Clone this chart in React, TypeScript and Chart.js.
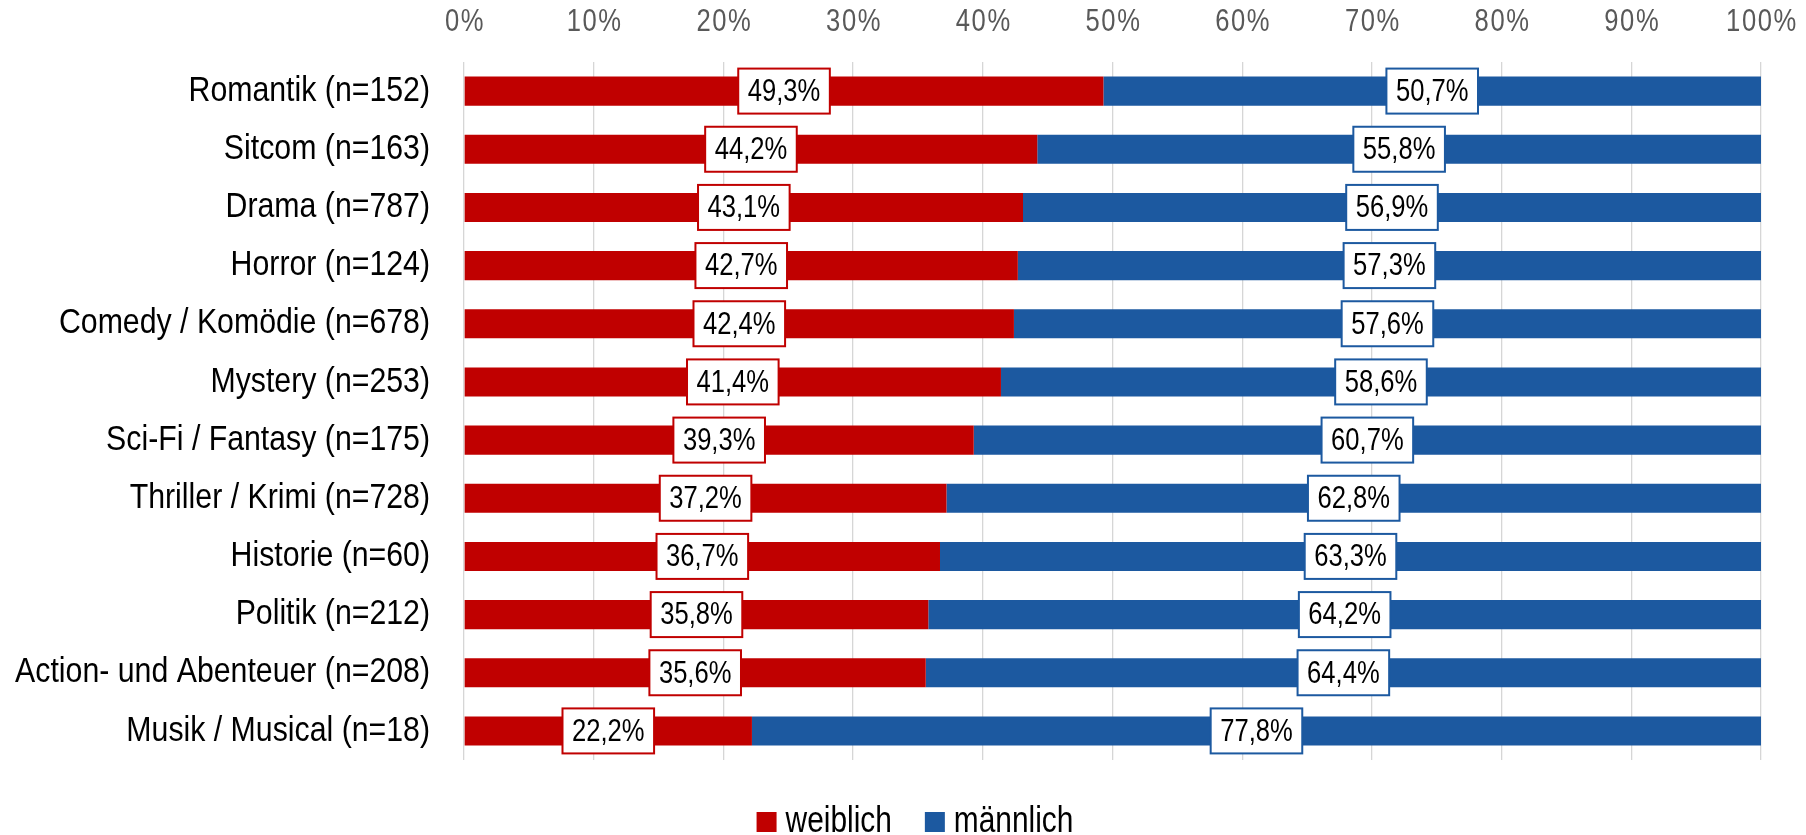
import React, { useEffect, useRef } from "react";
import { Chart, registerables } from "chart.js";

Chart.register(...registerables);

const categories = [
  "Romantik (n=152)",
  "Sitcom (n=163)",
  "Drama (n=787)",
  "Horror (n=124)",
  "Comedy / Komödie (n=678)",
  "Mystery (n=253)",
  "Sci-Fi / Fantasy (n=175)",
  "Thriller / Krimi (n=728)",
  "Historie (n=60)",
  "Politik (n=212)",
  "Action- und Abenteuer (n=208)",
  "Musik / Musical (n=18)",
];

const weiblich = [49.3, 44.2, 43.1, 42.7, 42.4, 41.4, 39.3, 37.2, 36.7, 35.8, 35.6, 22.2];
const maennlich = [50.7, 55.8, 56.9, 57.3, 57.6, 58.6, 60.7, 62.8, 63.3, 64.2, 64.4, 77.8];

const xTicks = [0, 10, 20, 30, 40, 50, 60, 70, 80, 90, 100];

const RED = "#C00000";
const BLUE = "#1C59A0";
const FONT = "'Liberation Sans', Arial, sans-serif";

const fmt = (v: number) => v.toFixed(1).replace(".", ",") + "%";

// draw text horizontally condensed (reference uses a narrow font)
function drawText(ctx: any, txt: string, x: number, y: number, size: number, k: number, align: string, baseline: string, color: string, spacing = 0) {
  ctx.save();
  ctx.font = `${size}px ${FONT}`;
  ctx.fillStyle = color;
  ctx.textAlign = align;
  ctx.textBaseline = baseline;
  if (spacing) ctx.letterSpacing = spacing + "px";
  ctx.translate(x, y);
  ctx.scale(k, 1);
  ctx.fillText(txt, 0, 0);
  ctx.restore();
}
function textWidth(ctx: any, txt: string, size: number, k: number) {
  ctx.save();
  ctx.font = `${size}px ${FONT}`;
  const w = ctx.measureText(txt).width * k;
  ctx.restore();
  return w;
}

const narrowText = {
  id: "narrowText",
  afterDraw(chart: any) {
    const ctx = chart.ctx;
    const xs = chart.scales.x;
    const ys = chart.scales.y;
    // x tick labels
    xs.ticks.forEach((t: any) => {
      drawText(ctx, t.value + "%", xs.getPixelForValue(t.value) + 1, 22, 32, 0.8, "center", "middle", "#595959", 2);
    });
    // y category labels
    chart.data.labels.forEach((lab: string, i: number) => {
      drawText(ctx, lab, chart.chartArea.left - 34, ys.getPixelForValue(i), 35, 0.865, "right", "middle", "#000000");
    });
    // legend
    const items = chart.data.datasets.map((d: any) => ({ text: d.label, color: d.backgroundColor }));
    const size = 36, k = 0.83, box = 20, gapBox = 9, gapItem = 33;
    const widths = items.map((it: any) => textWidth(ctx, it.text, size, k));
    const total = widths.reduce((a: number, w: number) => a + box + gapBox + w, 0) + gapItem * (items.length - 1);
    let x = 915 - total / 2;
    const base = 832;
    items.forEach((it: any, i: number) => {
      ctx.fillStyle = it.color;
      ctx.fillRect(x, base - box, box, box);
      x += box + gapBox;
      drawText(ctx, it.text, x, base, size, k, "left", "alphabetic", "#000000");
      x += widths[i] + gapItem;
    });
  },
};

const boxLabels = {
  id: "boxLabels",
  afterDatasetsDraw(chart: any) {
    const ctx = chart.ctx;
    chart.data.datasets.forEach((ds: any, di: number) => {
      const meta = chart.getDatasetMeta(di);
      meta.data.forEach((el: any, i: number) => {
        const txt = fmt(ds.data[i]);
        const cx = (el.x + el.base) / 2;
        const cy = el.y;
        const tw = textWidth(ctx, txt, 32, 0.8);
        const w = tw + 19;
        const h = 45;
        ctx.save();
        ctx.fillStyle = "#FFFFFF";
        ctx.fillRect(cx - w / 2, cy - h / 2, w, h);
        ctx.lineWidth = 2;
        ctx.strokeStyle = ds.backgroundColor;
        ctx.strokeRect(cx - w / 2, cy - h / 2, w, h);
        ctx.restore();
        drawText(ctx, txt, cx, cy + 1, 32, 0.8, "center", "middle", "#000000");
      });
    });
  },
};

export default function App() {
  const ref = useRef<HTMLCanvasElement | null>(null);
  useEffect(() => {
    if (!ref.current) return;
    const chart = new Chart(ref.current, {
      type: "bar",
      data: {
        labels: categories,
        datasets: [
          { label: "weiblich", data: weiblich, backgroundColor: RED, borderWidth: 0, categoryPercentage: 1, barPercentage: 0.5 },
          { label: "männlich", data: maennlich, backgroundColor: BLUE, borderWidth: 0, categoryPercentage: 1, barPercentage: 0.5 },
        ],
      },
      options: {
        indexAxis: "y",
        responsive: false,
        animation: false,
        layout: { padding: { left: 0, right: 45, top: 0, bottom: 75 } },
        scales: {
          x: {
            type: "linear",
            position: "top",
            stacked: true,
            min: 0,
            max: 100,
            afterBuildTicks: (s: any) => {
              s.ticks = xTicks.map((v) => ({ value: v }));
            },
            afterFit: (s: any) => {
              s.height = 62;
            },
            ticks: { display: false },
            grid: { color: "#D6D6D6", lineWidth: 1.3, drawTicks: false },
            border: { display: false },
          },
          y: {
            stacked: true,
            afterFit: (s: any) => {
              s.width = 464;
            },
            ticks: { display: false },
            grid: { display: false, drawTicks: false },
            border: { display: false },
          },
        },
        plugins: {
          legend: { display: false },
          tooltip: { enabled: false },
        },
      },
      plugins: [boxLabels, narrowText],
    } as any);
    return () => chart.destroy();
  }, []);
  return (
    <div style={{ position: "fixed", left: 0, top: 0, width: 1806, height: 835, background: "#fff" }}>
      <canvas ref={ref} width={1806} height={835} style={{ display: "block" }} />
    </div>
  );
}
